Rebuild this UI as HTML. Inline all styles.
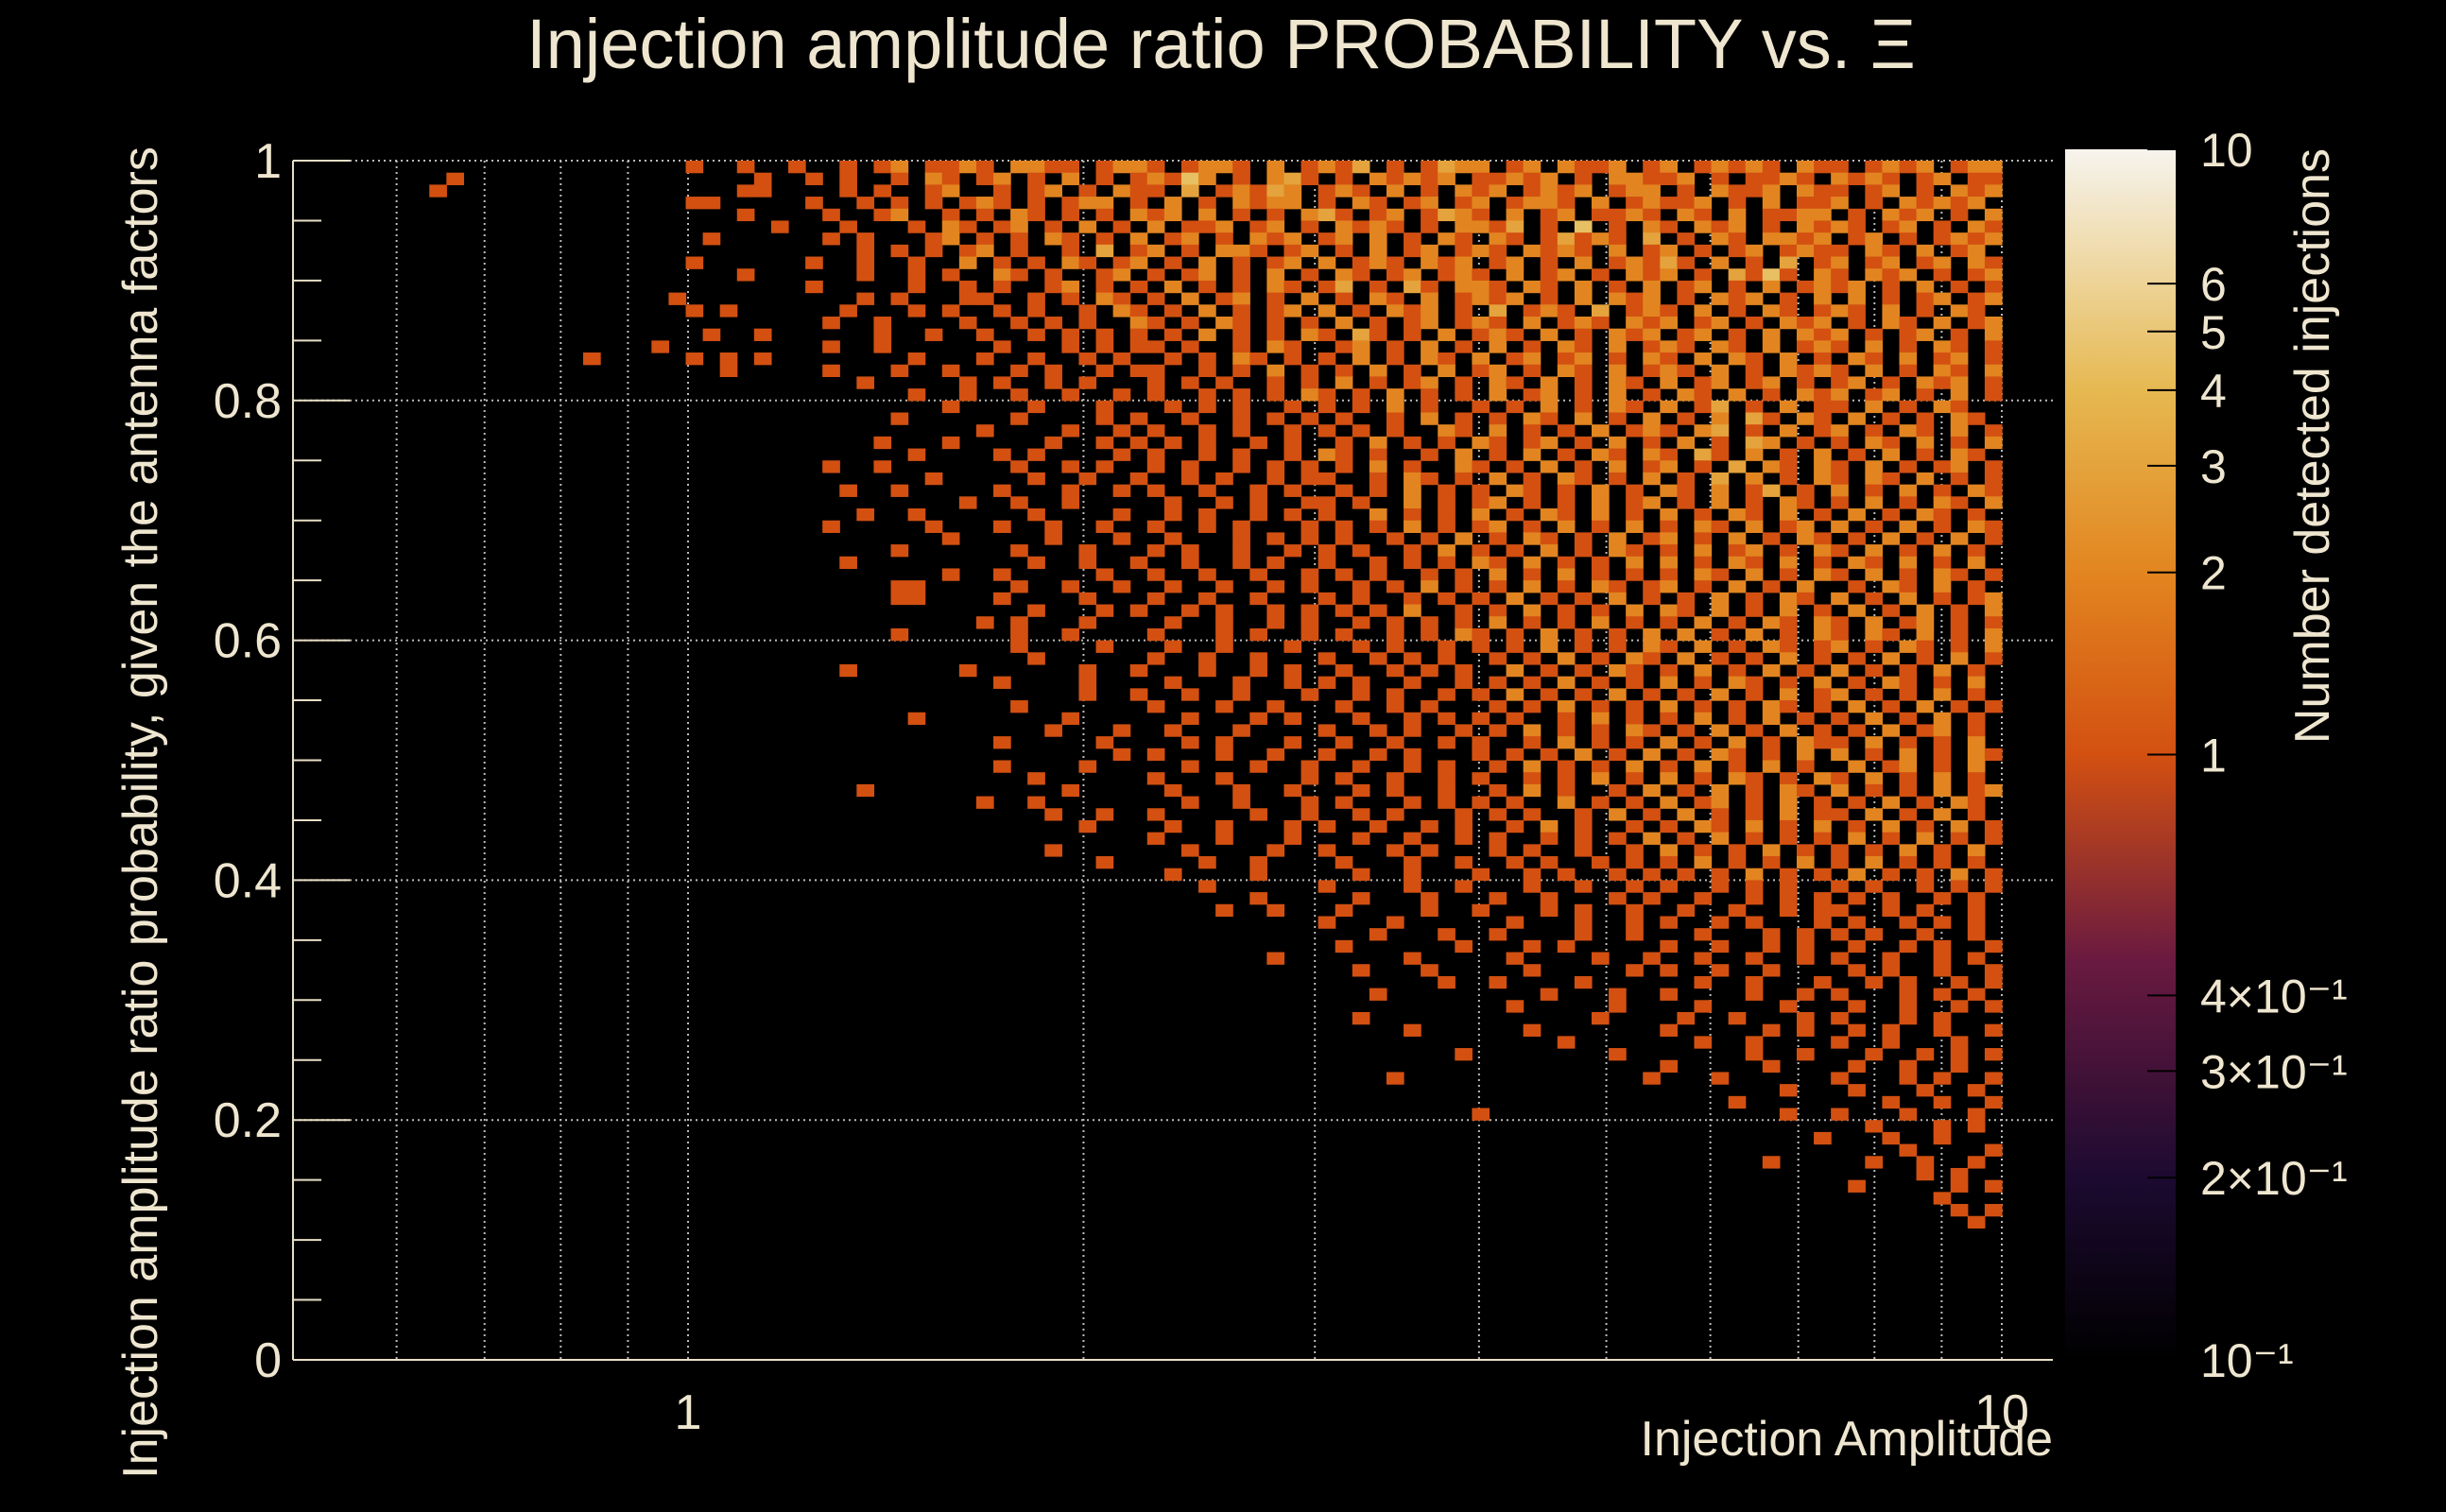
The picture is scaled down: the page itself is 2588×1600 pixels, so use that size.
<!DOCTYPE html>
<html><head><meta charset="utf-8">
<style>
html,body{margin:0;padding:0;background:#000;}
svg{display:block;}
text{font-family:"Liberation Sans",sans-serif;fill:#efe6d0;}
</style></head>
<body>
<svg id="chart" width="2588" height="1600" viewBox="0 0 2588 1600" xmlns="http://www.w3.org/2000/svg">
<defs>
<linearGradient id="cbar" x1="0" y1="1" x2="0" y2="0">
<stop offset="0" stop-color="#000000"/>
<stop offset="0.15" stop-color="#1c0a30"/>
<stop offset="0.33" stop-color="#6a1a40"/>
<stop offset="0.5" stop-color="#d35011"/>
<stop offset="0.65" stop-color="#e28520"/>
<stop offset="0.8" stop-color="#e6b850"/>
<stop offset="1" stop-color="#f6f4ee"/>
</linearGradient>
</defs>
<rect x="0" y="0" width="2588" height="1600" fill="#000"/>
<text x="1292" y="72" font-size="74" text-anchor="middle">Injection amplitude ratio PROBABILITY vs.  Ξ</text>
<g id="grid"></g>
<g id="cells"></g>
<g id="axes"></g>
<rect x="2185" y="158" width="117" height="1281" fill="url(#cbar)"/>
<g id="cbticks"></g>
<text transform="translate(2464,472) rotate(-90)" font-size="52" text-anchor="middle">Number detected injections</text>
<text transform="translate(166,860) rotate(-90)" font-size="52" text-anchor="middle">Injection amplitude ratio probability, given the antenna factors</text>
<text x="2172" y="1540" font-size="52" text-anchor="end">Injection Amplitude</text>
</svg>
<script>
const NS="http://www.w3.org/2000/svg";
const xMin=0.5, xMax=10, nCols=100, nRows=100, colOffset=20;
const yTicks=[0,0.2,0.4,0.6,0.8,1];
const yTickLabels=["0","0.2","0.4","0.6","0.8","1"];
const xTicks=[1,10];
const xTickLabels=["1","10"];
const xGrid=[0.6,0.7,0.8,0.9,1,2,3,4,5,6,7,8,9,10];
const levelValues=[0,1,2,3,4.5];
const cbTicks=[10,6,5,4,3,2,1,0.4,0.3,0.2,0.1];
const cbTickLabels=["10","6","5","4","3","2","1","4×10⁻¹","3×10⁻¹","2×10⁻¹","10⁻¹"];
const outliers=[[1,9,1],[2,8,1],[16,17,1]];
const rows=[
"...1..1..1 ..1.12.112 1.2211.122 1.1221.2.1 213.1.1322 .12.2112.1 2.12121.21 1.1212.122",
".......1.. 1.1..1.21. 12.1.2.1.1 2142.1.231 .1.21212.1 1212.1.221 12.1.1121. 2121.12.11",
"......11.. ..1.1..12. .1.12.1.21 1.3.12132. 121.2.1.21 2.1212.122 .1.2112.21 1.12.1.212",
"...11..... 1..1.1.1.1 21.1.122.1 .2.1.2122. 1.21.12.12 .1221.2.12 112.1.2.11 2.1.21212.",
"......1... .1..12..1. 1.21.1.1.2 12.2.1.1.2 31.12.1321 .2.12.1121 .21.2.1122 .1.212.1.2",
"........1. ..1...1.21 .12.1.2.1. 2.112.12.1 .2121.1.22 13.1.4.1.2 1.212.1.21 21.12.1.21",
"....1..... .1.1...12. 1.1.21.1.2 .12.1.212. 12.2.1.21. 21.13121.3 .1.21.2212 .12.1.1212",
".......... ...1.1.1.1 2.1..1.3.1 2.1.221.12 .1.2.12.12 1.2121.2.1 2.1.12.121 1.21.2.12.",
"...1...... 1..1..1..2 .1.1.21.12 .1.2.1.12. 2.121.212. 12.1.2.121 31.2.1.3.1 2.12.12.21",
"......1... ...1..1.1. .21.1..12. 1.12.1.2.1 .21.12.121 .2.12.1.21 2.1.3141.2 1.212.1.12",
".......... 1.....1..1 .1..12.1.1 .2.1.1.21. 13.1.31.22 1.21.2.1.2 .12.1.2.12 12.1.2.1.1",
"..1....... ...1.1...1 1..1.1.21. 1.2.12.1.2 .1.21.2.12 12.1.2.212 .1.212.1.2 .2.1.12.12",
"...1.1.... ..1...1.1. .1.1..1.21 .1.2.1.12. 2.1.212.1. 3.121.3.12 1.2.1.21.1 21.2.1.21.",
".......... .1..1....1 ..1.1.1..2 1.1.21.1.1 .2.1.12.12 1.2.121.21 2.12.1.212 .1.21.2.12",
"....1..1.. ....1..1.. 1..1.1.1.1 .1.2.1.1.2 1.31.1.2.1 21.2.1.212 .12.1.2.21 2.1.12.1.2",
".1........ .1..1..... .1...1.1.1 1.1..1.21. .12.1.2.1. 2.1.21.2.1 21.21.2.12 1.2.1.21.1",
"...1.1.1.. ......1... 1..1..1.1. .1.1.21.1. 1.2.1.21.2 .12.12.1.2 1.2.21.2.1 .21.2.12.1",
".....1.... .1...1..1. ..1.1..1.1 1..1.1.2.1 .1.2.1.2.1 2.1.21.2.1 21.2.1.212 1.2.1.21.2",
".......... ...1.....1 .1..1.1... 1.1.1..1.1 .2.1.12.1. 21.2.1.21. 2.12.12.1. 12.1.212.1",
".......... ......1..1 ..1..1..1. 1..1.1.1.2 1.1.2.1.1. 2.12.1.2.1 .21.2.1.21 2.12.1.2.1",
".......... ........1. ...1...1.. .1.1.1..1. 1.1.2.1..1 .1.2.1.21. 2.13.1.2.1 1.2.1.21..",
".......... .....1.... ..1....1.1 ..1..1.1.1 .1..1.2.1. 1.21.2.1.2 .1.2.31.21 .2.1.1.21.",
".......... .......... 1....1..1. 1..1.1..1. 1.1.1..21. 2.1.1.2.12 1.23.1.2.1 2.1.21.2.1",
".......... ....1...1. ....1..1.1 .1.1..1.1. .1.2.1.1.2 1.12.1.2.1 .2.1.32.1. 1.21.2.1.2",
".......... ......1... .1.1....1. 1..1.1..1. 21.1..1.2. 1.2.1.21.2 1.31.2.1.2 .1.2.1.21.",
".......... .1..1..... ..1..1.1.. 1.1..1.1.1 .1.2.1..21 .1.2.1.2.1 2.1.3.21.2 1.2.1.12.1",
".......... .......1.. ...1..1..1 ..1.1..1.1 1..1.21.1. 2.1.21.1.2 .1.3.2.1.2 1.21.2.1.1",
".......... ..1..1.... .1...1..1. 1..1..1.1. .1.1.2.1.1 .21.1.2.1. 21.2.13.1. 2.1.2.1.21",
".......... .........1 ..1..1.... .1..1.1..1 1.1..2.1.1 2.1.1.2.12 .1.2.1.21. 1.2.1.21.2",
".......... ...1..1... ...1....1. .1.1..1.1. 1..2.1.1.2 .1.21.2.1. 2.1.21.2.1 .2.1.21.1.",
".......... .1.....1.. .1..1..1.. 1..1.1...1 .1.1.2.1.1 2.1.2.1.2. 1.21.2.12. 2.1.2.1.21",
".......... ........1. ....1...1. .1...1.1.1 .1..1.1.2. 1.21.1.2.1 2.1.2.1.21 .1.2.1.2.1",
".......... .....1.... ..1...1... 1.1..1..1. 1.1..1.2.1 .1.2.1.21. 1.2.12.1.2 1.2.1.2.1.",
".......... ..1....... ...1..1..1 ..1..1.1.. 1..1.1.1.2 1.2.1.1.2. 2.1.21.2.1 .21.2.1.2.",
".......... ........1. .1.....1.. 1..1..1..1 .1.1..1.1. 2.1.2.1.1. 1.21.2.1.2 1.2.1.21.1",
".......... .....11... ..1..1..1. .1..1..1.1 ..1.1.2.1. 1.2.1.21.1 2.1.2.1.2. .1.21.2.1.",
".......... .....11... .1....1... 1..1..1... 1.1..1.1.1 .2.1.1.2.1 .1.2.1.21. 2.1.2.1.12",
".......... .......... ...1...1.1 ..1.1..1.1 .1.1.2..1. 1.2.1.1.2. 21.2.1.2.1 .2.1.2.1.2",
".......... .......... 1.1...1... .1..1..1.1 ..1.1.1.1. 2.1.1.2.1. 1.2.1.21.2 1.2.12.1.1",
".......... .....1.... ..1..1.... 1...1.1..1 .1..1.1.21 .1.2.1.1.2 .2.1.2.1.2 1.21.2.1.2",
".......... .......... ..1....1.. .1..1...1. ..1.1..1.1 .1.2.1.1.2 1.2.1.21.1 2.1.21.1.2",
".......... .......... ...1...... 1..1..1... 1..1.1.1.. 1.1.2.1.21 .2.1.1.2.1 .1.2.1.2.1",
".......... ..1......1 ......1..1 ...1..1.1. .1..1.1.1. .2.1.1.21. 1.2.1.2.1. 2.1.1.2.1.",
".......... .......... .1....1... .1...1..1. 1.1..1..1. 1.1.2.1.1. 2.1.21.1.2 .1.21.1.2.",
".......... .......... ......1..1 ..1..1...1 ..1.1..1.1 .2.1.1.2.1 .1.2.1.2.1 2.1.1.2.1.",
".......... .......... ..1....... 1...1..1.. .1..1.1... 1.1.2.1.1. 2.1.1.21.1 .2.1.2.1.1",
".......... ......1... .....1.... ..1...1.1. ..1..1.1.1 .1..1.2.1. 1.2.1.2.1. 1.2.1.2.1.",
".......... .......... ....1...1. .1...1.... 1..1.1..1. 1.2.1.1.21 .1.2.1.2.1 .1.2.12.1.",
".......... .......... .1.....1.. ..1.1...1. .1..1..1.1 ..1.2.1.1. 2.1.2.1.21 1.2.1.1.2.",
".......... .......... ........1. 1...1..1.. 1..1.1...1 .1.1.2.1.2 .1.21.1.2. 2.1.2.1.21",
".......... .......... .1....1... ..1...1..1 ..1..1.1.. 1.2.1.1.2. 1.2.1.2.1. .2.12.1.2.",
".......... .......... ...1...... 1...1....1 .1..1..1.1 ..1.1.2.1. 2.1.21.1.2 1.2.1.2.1.",
".......... ...1...... .....1.... .1...1..1. ..1.1..1.. 1.2.1..1.2 .1.2.1.21. 2.1.1.2.12",
".......... .......... 1..1...... ..1..1...1 .1...1.1.1 .1..2.1.1. 2.12.1.2.1 .1.2.1.21.",
".......... .......... ....1..1.. 1.....1..1 ..1.1...1. 1.1..1.2.1 .2.1.1.2.1 1.2.1.2.1.",
".......... .......... ......1... .1..1...1. 1..1..1.1. .1.2.1..1. 1.21.2.1.2 .1.2.1.2.1",
".......... .......... .......... 1...1...1. ..1..1..1. 1..1.1.1.2 .1.2.1.1.1 .2.1.2.1.1",
".......... .......... ....1..... ..1....1.. 1...1.1... 1.1..1..1. 2.1.1.2.1. 1.1.2.1.2.",
".......... .......... .......1.. ...1..1... .1...1..1. .1.1..1.1. 1.2.1.1.2. 1.2.1.1.1.",
".......... .......... .......... .1....1... ..1..1...1 ..1.1..1.1 .1.1.2.1.1 .2.1.1.2.1",
".......... .......... .......... ...1...... 1....1..1. ..1..1..1. 1..1.1.1.. 1.1..1.1.1",
".......... .......... .......... ......1... ..1...1... 1..1...1.1 ..1..1.1.1 .1.1..1.1.",
".......... .......... .......... ....1..1.. .1....1..1 ...1.1..1. .1..1..1.1 1..1.1..1.",
".......... .......... .......... .......... 1...1..... .1...1..1. 1..1.1...1 .1..1.1.1.",
".......... .......... .......... .......... ...1...1.. 1....1..1. ..1...1.1. 1.1..1..1.",
".......... .......... .......... .......... .1......1. ..1.1..... 1..1..1.1. .1..1.1..1",
".......... .......... .......... .......1.. .....1.... .1....1..1 ..1..1..1. 1..1..1.1.",
".......... .......... .......... .......... ..1...1... ..1.....1. 1..1..1... .1.1..1..1",
".......... .......... .......... .......... .......1.. 1....1.... ..1..1...1 ..1.1..1.1",
".......... .......... .......... .......... ...1...... ...1...1.. 1....1..1. 1...1.1.1.",
".......... .......... .......... .......... .......... .1.....1.. ..1....1.. .1..1..1.1",
".......... .......... .......... .......... ..1....... ......1... .1..1...1. 1...1.1...",
".......... .......... .......... .......... .....1.... ..1....... 1.....1.1. .1.1..1..1",
".......... .......... .......... .......... .......... ....1..... ..1..1.... 1..1...1..",
".......... .......... .......... .......... ........1. .......1.. .....1..1. ..1..1.1.1",
".......... .......... .......... .......... .......... .......... 1.....1... .1..1..1..",
".......... .......... .......... .......... ....1..... .........1 ...1...... 1...1.1..1",
".......... .......... .......... .......... .......... .......... .......1.. .1...1..1.",
".......... .......... .......... .......... .......... .......... ....1..... ...1..1..1",
".......... .......... .......... .......... .........1 .......... .......1.. 1...1...1.",
".......... .......... .......... .......... .......... .......... .......... ..1...1.1.",
".......... .......... .......... .......... .......... .......... .........1 ...1..1...",
".......... .......... .......... .......... .......... .......... .......... ....1....1",
".......... .......... .......... .......... .......... .......... ......1... ..1..1..1.",
".......... .......... .......... .......... .......... .......... .......... .....1.1..",
".......... .......... .......... .......... .......... .......... .......... .1.....1.1",
".......... .......... .......... .......... .......... .......... .......... ......1...",
".......... .......... .......... .......... .......... .......... .......... .......1.1",
".......... .......... .......... .......... .......... .......... .......... ........1."
];

const PL=310, PR=2172, PT=170, PB=1439;
const X1=728, DEC=1390;
function xScale(v){return X1+Math.log10(v)*DEC;}
function yScale(v){return PB-v*(PB-PT);}
function colEdge(i){return xMin*Math.pow(xMax/xMin,i/nCols);}
const CBT=158, CBB=1439;
function cbScale(v){return CBB-(Math.log10(v)+1)/2*(CBB-CBT);}
function colorFor(v){
  const stops=[[0.1,[0,0,0]],[0.2,[28,10,48]],[0.4,[106,26,64]],[1,[211,80,17]],[2,[226,133,32]],[4,[230,184,80]],[10,[246,244,238]]];
  for(let k=0;k<stops.length-1;k++){
    const a=stops[k],b=stops[k+1];
    if(v<=b[0]){const t=(Math.log(v)-Math.log(a[0]))/(Math.log(b[0])-Math.log(a[0]));
      const c=a[1].map((q,m)=>Math.round(q+(b[1][m]-q)*t));return "rgb("+c.join(",")+")";}
  }
  return "rgb(246,244,238)";
}
function el(tag,attrs,parent){const e=document.createElementNS(NS,tag);for(const k in attrs)e.setAttribute(k,attrs[k]);parent.appendChild(e);return e;}

const grid=document.getElementById('grid');
xGrid.forEach(v=>{
  const l=el('line',{x1:xScale(v),x2:xScale(v),y1:PT,y2:PB,stroke:'#bbb','stroke-width':2,'stroke-dasharray':'2,4'},grid);
  
  
});
yTicks.forEach(v=>{
  if(v===0)return;
  const l=el('line',{x1:PL,x2:PR,y1:yScale(v),y2:yScale(v),stroke:'#bbb','stroke-width':2,'stroke-dasharray':'2,4'},grid);
  
  
});

const cells=document.getElementById('cells');
function addCell(r,c,lvl){
  const v=levelValues[lvl];
  const x0=xScale(colEdge(c)), x1=xScale(colEdge(c+1));
  const y0=yScale(1-r/nRows), y1=yScale(1-(r+1)/nRows);
  const rc=el('rect',{x:x0.toFixed(2),y:y0.toFixed(2),width:(x1-x0+0.6).toFixed(2),height:(y1-y0+0.6).toFixed(2),fill:colorFor(v)},cells);
  
  
}
rows.forEach((s,r)=>{
  const t=s.replace(/ /g,'');
  for(let k=0;k<t.length;k++){const ch=t[k];if(ch!=='.'){addCell(r,colOffset+k,parseInt(ch));}}
});
outliers.forEach(o=>addCell(o[0],o[1],o[2]));

const axes=document.getElementById('axes');
let a=el('line',{x1:PL,x2:PL,y1:PT,y2:PB,stroke:'#e8dfc6','stroke-width':2},axes);


a=el('line',{x1:PL,x2:PR,y1:PB,y2:PB,stroke:'#e8dfc6','stroke-width':2},axes);


for(let k=0;k<=20;k++){
  const v=k*0.05, big=(k%4===0);
  const t=el('line',{x1:PL,x2:PL+(big?60:30),y1:yScale(v),y2:yScale(v),stroke:'#e8dfc6','stroke-width':2},axes);
  
  
}
yTicks.forEach((v,i)=>{
  const t=el('text',{x:298,y:yScale(v)+18,'font-size':52,'text-anchor':'end'},axes);
  t.textContent=yTickLabels[i];
  
  
});
xTicks.forEach((v,i)=>{
  const t=el('text',{x:xScale(v),y:1512,'font-size':52,'text-anchor':'middle'},axes);
  t.textContent=xTickLabels[i];
  
  
});
const cbt=document.getElementById('cbticks');
cbTicks.forEach((v,i)=>{
  const y=cbScale(v);
  const t=el('line',{x1:2272,x2:2302,y1:y,y2:y,stroke:'#000','stroke-width':2},cbt);
  
  
  const lb=el('text',{x:2328,y:y+18,'font-size':50},cbt);
  lb.textContent=cbTickLabels[i];
  
  
});
</script>
</body></html>
